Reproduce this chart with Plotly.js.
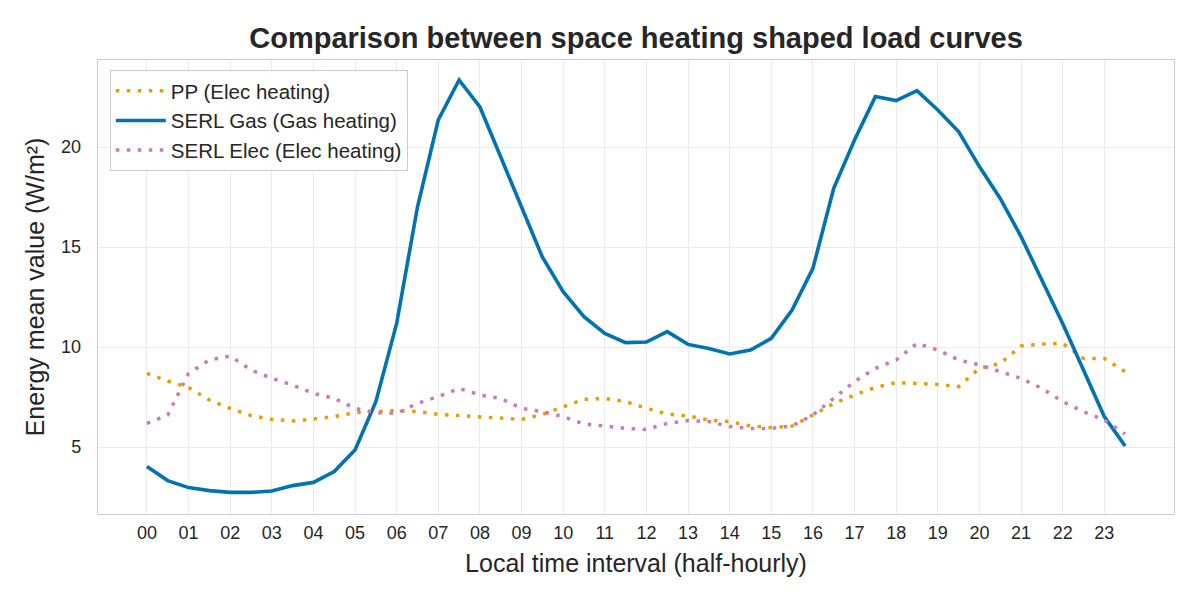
<!DOCTYPE html>
<html>
<head>
<meta charset="utf-8">
<script src="https://cdn.plot.ly/plotly-3.0.1.min.js"></script>
<style>
  html, body { margin: 0; padding: 0; background: #fff; }
  #chart { width: 1200px; height: 604px; }
</style>
</head>
<body>
<div id="chart"></div>
<script>
// half-hourly time slots
var slots = [
  '00:00','00:30','01:00','01:30','02:00','02:30','03:00','03:30',
  '04:00','04:30','05:00','05:30','06:00','06:30','07:00','07:30',
  '08:00','08:30','09:00','09:30','10:00','10:30','11:00','11:30',
  '12:00','12:30','13:00','13:30','14:00','14:30','15:00','15:30',
  '16:00','16:30','17:00','17:30','18:00','18:30','19:00','19:30',
  '20:00','20:30','21:00','21:30','22:00','22:30','23:00','23:30'
];
var hourSlots = ['00:00','01:00','02:00','03:00','04:00','05:00','06:00','07:00',
  '08:00','09:00','10:00','11:00','12:00','13:00','14:00','15:00',
  '16:00','17:00','18:00','19:00','20:00','21:00','22:00','23:00'];
var hourLabels = ['00','01','02','03','04','05','06','07','08','09','10','11',
  '12','13','14','15','16','17','18','19','20','21','22','23'];

var ppElec = [
  8.68, 8.30, 7.98, 7.35, 6.93, 6.57, 6.38, 6.30, 6.40, 6.52, 6.72, 6.77,
  6.82, 6.77, 6.63, 6.57, 6.52, 6.43, 6.38, 6.63, 7.02, 7.38, 7.43, 7.27,
  6.93, 6.65, 6.55, 6.35, 6.27, 6.05, 5.97, 6.05, 6.60, 7.18, 7.60, 7.98,
  8.22, 8.18, 8.13, 8.02, 8.93, 9.18, 10.05, 10.15, 10.18, 9.43, 9.43, 8.77
];
var serlGas = [
  4.02, 3.32, 2.97, 2.82, 2.73, 2.73, 2.80, 3.07, 3.23, 3.77, 4.85, 7.27,
  11.18, 17.00, 21.35, 23.35, 22.00, 19.50, 16.90, 14.50, 12.77, 11.52, 10.68, 10.22,
  10.25, 10.77, 10.13, 9.93, 9.65, 9.85, 10.43, 11.85, 13.93, 17.93, 20.35, 22.52,
  22.32, 22.82, 21.85, 20.77, 19.02, 17.43, 15.52, 13.35, 11.18, 8.85, 6.52, 5.05
];
var serlElec = [
  6.18, 6.60, 8.68, 9.35, 9.55, 8.85, 8.43, 8.10, 7.68, 7.43, 6.93, 6.72,
  6.68, 7.18, 7.52, 7.93, 7.60, 7.43, 6.93, 6.77, 6.52, 6.15, 6.05, 5.93,
  5.88, 6.18, 6.32, 6.27, 6.02, 5.93, 5.93, 6.05, 6.60, 7.43, 8.27, 8.93,
  9.35, 10.18, 9.85, 9.35, 9.10, 8.77, 8.43, 7.93, 7.27, 6.77, 6.35, 5.65
];

var font = 'Liberation Sans, Arial, sans-serif';
var dotted = '3.5px,7.5px';

var traces = [
  {
    x: slots, y: ppElec, type: 'scatter', mode: 'lines',
    name: 'PP (Elec heating)', legendgroup: 'a',
    line: {color: '#E69F00', width: 3.5, dash: dotted}
  },
  {
    x: slots, y: serlGas, type: 'scatter', mode: 'lines',
    name: 'SERL Gas (Gas heating)', legendgroup: 'b',
    line: {color: '#0173B2', width: 3.6}
  },
  {
    x: slots, y: serlElec, type: 'scatter', mode: 'lines',
    name: 'SERL Elec (Elec heating)', legendgroup: 'c',
    line: {color: '#CC78BC', width: 3.5, dash: dotted}
  }
];

var layout = {
  width: 1200,
  height: 604,
  margin: {l: 98, r: 26, t: 60, b: 90},
  paper_bgcolor: '#ffffff',
  plot_bgcolor: '#ffffff',
  font: {family: font, color: '#262626', size: 18},
  title: {
    text: '<b>Comparison between space heating shaped load curves</b>',
    font: {family: font, size: 29, color: '#262626'},
    x: 0.5, xref: 'paper', xanchor: 'center',
    y: 1 - 38 / 604, yanchor: 'middle'
  },
  xaxis: {
    type: 'category',
    range: [-2.35, 49.35],
    tickvals: hourSlots,
    ticktext: hourLabels,
    tickfont: {size: 18},
    showgrid: true, gridcolor: '#ebebeb', gridwidth: 1,
    showline: true, linecolor: '#cccccc', linewidth: 1.25, mirror: true,
    ticks: '', zeroline: false, ticklabelstandoff: 2,
    title: {text: 'Local time interval (half-hourly)', font: {size: 25}, standoff: 12}
  },
  yaxis: {
    range: [1.65, 24.35],
    tickvals: [5, 10, 15, 20],
    tickfont: {size: 18},
    showgrid: true, gridcolor: '#ebebeb', gridwidth: 1,
    showline: true, linecolor: '#cccccc', linewidth: 1.25, mirror: true,
    ticks: '', zeroline: false, ticklabelstandoff: 12,
    title: {text: 'Energy mean value (W/m²)', font: {size: 25}, standoff: 9}
  },
  legend: {
    x: 0.011, y: 0.978, xanchor: 'left', yanchor: 'top',
    bgcolor: 'rgba(255,255,255,0.85)',
    bordercolor: '#cccccc', borderwidth: 1,
    font: {size: 20.5, color: '#262626'},
    itemwidth: 50,
    traceorder: 'grouped', tracegroupgap: 0
  },
  showlegend: true
};

Plotly.newPlot('chart', traces, layout, {displayModeBar: false, staticPlot: true});
</script>
</body>
</html>
